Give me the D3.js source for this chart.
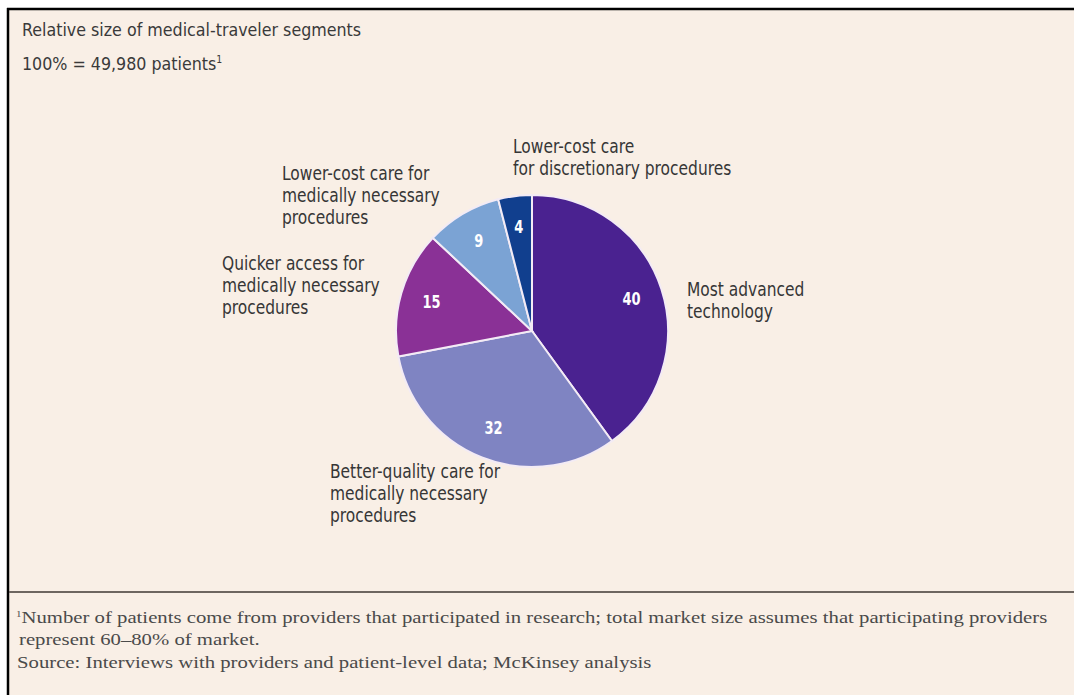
<!DOCTYPE html>
<html>
<head>
<meta charset="utf-8">
<script src="https://cdn.jsdelivr.net/npm/d3@7"></script>
<style>
  html, body { margin: 0; padding: 0; background: #ffffff; }
  svg { display: block; }
  .cond { font-family: "Liberation Sans Narrow", "DejaVu Sans Condensed", "Roboto Condensed", "Arial Narrow", sans-serif; }
  .serif { font-family: "Liberation Serif", "DejaVu Serif", serif; }
</style>
</head>
<body>
<svg id="chart" width="1074" height="695"></svg>
<script>
// ---- data ----
const segments = [
  "Most advanced technology",
  "Better-quality care for medically necessary procedures",
  "Quicker access for medically necessary procedures",
  "Lower-cost care for medically necessary procedures",
  "Lower-cost care for discretionary procedures"
];
const values = [40, 32, 15, 9, 4];
const colors = ["#4a2290", "#7f84c2", "#8a3196", "#7ba3d4", "#113f8e"];
const labelLines = [
  ["Most advanced", "technology"],
  ["Better-quality care for", "medically necessary", "procedures"],
  ["Quicker access for", "medically necessary", "procedures"],
  ["Lower-cost care for", "medically necessary", "procedures"],
  ["Lower-cost care", "for discretionary procedures"]
];
const title = "Relative size of medical-traveler segments";
const subtitle = "100% = 49,980 patients";
const footnote1 = "Number of patients come from providers that participated in research; total market size assumes that participating providers";
const footnote2 = "represent 60–80% of market.";
const source = "Source: Interviews with providers and patient-level data; McKinsey analysis";

// ---- drawing ----
const W = 1074, H = 695;
const svg = d3.select("#chart");

// helper: text with horizontal compression/expansion
function stext(parent, x, y, sx, cls) {
  return parent.append("text").attr("class", cls)
    .attr("transform", `translate(${x},${y}) scale(${sx},1)`);
}

// frame
svg.append("rect").attr("x", 8).attr("y", 9).attr("width", W - 8).attr("height", H - 9)
  .attr("fill", "#f9efe6");
svg.append("line").attr("x1", 7).attr("x2", W).attr("y1", 9).attr("y2", 9)
  .attr("stroke", "#000").attr("stroke-width", 2.5);
svg.append("line").attr("x1", 8).attr("x2", 8).attr("y1", 8).attr("y2", H)
  .attr("stroke", "#000").attr("stroke-width", 2.5);

// titles
stext(svg, 22, 36, 1.04, "cond").attr("font-size", 17).attr("fill", "#3a3a3a").text(title);
const sub = stext(svg, 22, 70, 1.04, "cond").attr("font-size", 17).attr("fill", "#3a3a3a").text(subtitle);
sub.append("tspan").attr("font-size", 10).attr("dy", -7).text("1");

// pie
const cx = 532, cy = 331, R = 136;
const data = segments.map((s, i) => ({ name: s, value: values[i], color: colors[i], lines: labelLines[i] }));
const pie = d3.pie().value(d => d.value).sort(null);
const arcs = pie(data);
const arc = d3.arc().innerRadius(0).outerRadius(R);
const labelArc = d3.arc().innerRadius(R * 0.77).outerRadius(R * 0.77);
const g = svg.append("g").attr("transform", `translate(${cx},${cy})`);
g.selectAll("path").data(arcs).join("path")
  .attr("d", arc).attr("fill", d => d.data.color)
  .attr("stroke", "#f3ebf5").attr("stroke-width", 2);

arcs.forEach(d => {
  const [x, y] = labelArc.centroid(d);
  stext(g, x, y, 0.85, "cond")
    .attr("text-anchor", "middle").attr("dy", "0.36em")
    .attr("font-size", 17).attr("font-weight", "bold").attr("fill", "#ffffff")
    .text(d.data.value);
});

// outside labels (offsets from pie centre)
const labelAnchor = [
  { dx: 155, dy: -35 },   // Most advanced technology (right)
  { dx: -202, dy: 147 },  // Better-quality (bottom-left)
  { dx: -310, dy: -61 },  // Quicker access (left)
  { dx: -250, dy: -151 }, // Lower-cost necessary (top-left)
  { dx: -19, dy: -178 }   // Lower-cost discretionary (top)
];
const lineH = 22;
arcs.forEach((d, i) => {
  const t = stext(g, labelAnchor[i].dx, labelAnchor[i].dy, 0.905, "cond")
    .attr("font-size", 19).attr("fill", "#363636");
  d.data.lines.forEach((ln, j) => {
    t.append("tspan").attr("x", 0).attr("dy", j === 0 ? 0 : lineH / 1).text(ln);
  });
});

// footer
svg.append("line").attr("x1", 9).attr("x2", W).attr("y1", 592).attr("y2", 592)
  .attr("stroke", "#6e6660").attr("stroke-width", 1.8);
const f1 = stext(svg, 16, 623, 1.22, "serif").attr("font-size", 17).attr("fill", "#4a4a4a");
f1.append("tspan").attr("font-size", 9).attr("dy", -6).text("1");
f1.append("tspan").attr("dy", 6).text(footnote1);
stext(svg, 19, 645, 1.22, "serif").attr("font-size", 17).attr("fill", "#4a4a4a").text(footnote2);
stext(svg, 17, 668, 1.22, "serif").attr("font-size", 17).attr("fill", "#4a4a4a").text(source);
</script>
</body>
</html>
